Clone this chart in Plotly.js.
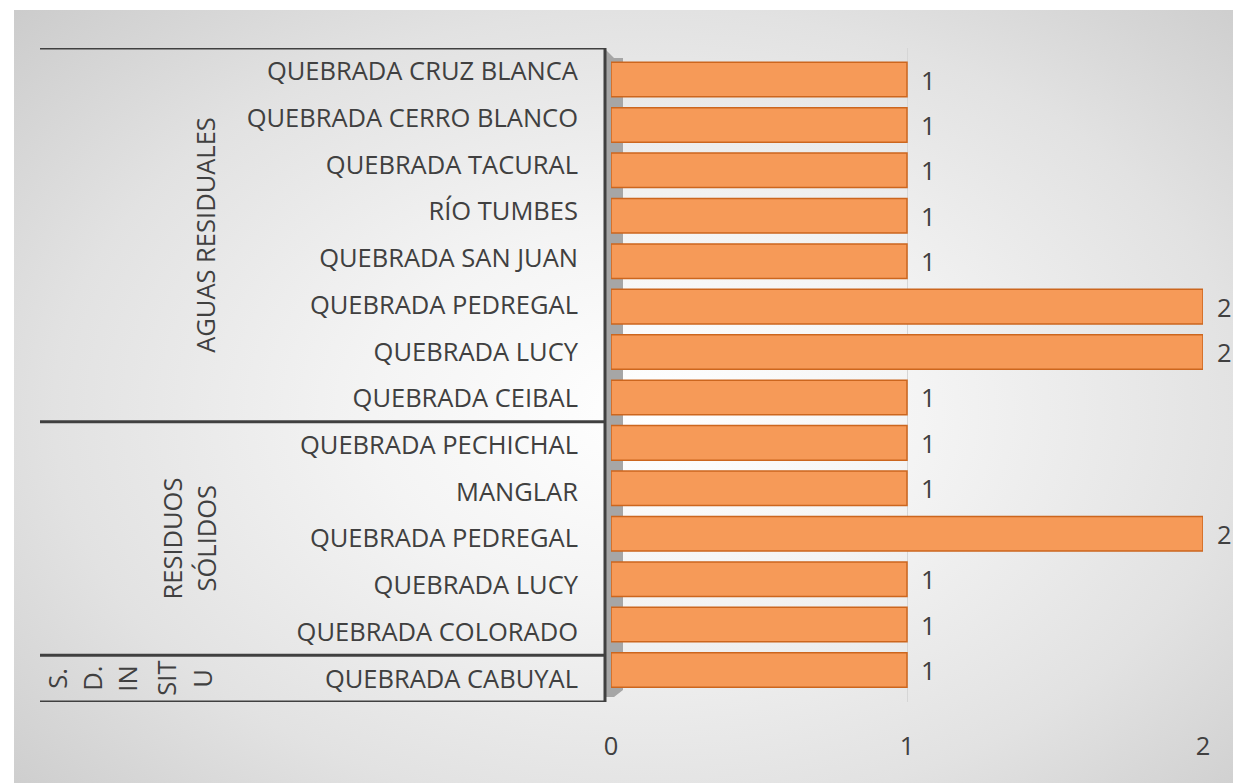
<!DOCTYPE html>
<html>
<head>
<meta charset="utf-8">
<script src="https://cdn.plot.ly/plotly-3.0.1.min.js"></script>
<style>
  html, body { margin: 0; padding: 0; background: #ffffff; }
  #bg { position: absolute; left: 14px; top: 10px; width: 1219px; height: 773px;
        background: radial-gradient(ellipse 75% 80% at 52% 52%, #ffffff 0%, #f4f4f4 30%, #e2e2e2 65%, #c8c8c8 100%); }
  #chart { position: absolute; left: 0; top: 0; width: 1233px; height: 783px; }
</style>
</head>
<body>
<div id="bg"></div>
<div id="chart"></div>
<script>
// ---- data ----
const categories = [
  'QUEBRADA CRUZ BLANCA', 'QUEBRADA CERRO BLANCO', 'QUEBRADA TACURAL', 'RÍO TUMBES',
  'QUEBRADA SAN JUAN', 'QUEBRADA PEDREGAL', 'QUEBRADA LUCY', 'QUEBRADA CEIBAL',
  'QUEBRADA PECHICHAL', 'MANGLAR', 'QUEBRADA PEDREGAL', 'QUEBRADA LUCY',
  'QUEBRADA COLORADO', 'QUEBRADA CABUYAL'
];
const values = [1, 1, 1, 1, 1, 2, 2, 1, 1, 1, 2, 1, 1, 1];
const groupNames = ['AGUAS RESIDUALES', 'RESIDUOS SÓLIDOS', 'S. D. IN SITU'];
const groupSizes = [8, 5, 1];
const xTicks = [0, 1, 2];

// ---- layout geometry ----
const W = 1233, H = 783;
const L = 611, R = 30, T = 48, B = 81;
const PW = W - L - R;
const PH = H - T - B;
const px = p => (p - L) / PW;          // pixel x -> paper x
const py = p => (H - B - p) / PH;      // pixel y -> paper y
const TXT = '#404040';
const FONT = 'Open Sans, Lato, sans-serif';
const FS = 25.5;

const idx = categories.map((_, i) => i);

// bars sit on a slightly compressed axis (3D perspective of the original)
const bars = {
  type: 'bar', orientation: 'h',
  x: values, y: idx, yaxis: 'y2',
  width: 0.76,
  marker: { color: '#F69A58', line: { color: '#CC661E', width: 1.5 } },
  hoverinfo: 'skip'
};

const annotations = values.map((v, i) => ({
  x: v, y: i, xref: 'x', yref: 'y2', text: String(v),
  showarrow: false, xanchor: 'left', yanchor: 'middle', xshift: 12,
  font: { family: FONT, size: FS, color: TXT }
}));

// group boundaries and labels
const shapes = [];
const lineStyle = { color: '#404040', width: 3 };
let start = 0;
const bounds = [-0.5];
groupSizes.forEach(s => { start += s; bounds.push(start - 0.5); });
bounds.forEach(b => shapes.push({
  type: 'line', xref: 'paper', yref: 'y', x0: px(40), x1: px(606), y0: b, y1: b, line: lineStyle
}));
shapes.push({ type: 'line', xref: 'paper', yref: 'y', x0: px(605), x1: px(605), y0: -0.5, y1: bounds[bounds.length - 1], line: lineStyle });
// 3D depth wall
shapes.push({ type: 'path', xref: 'paper', yref: 'paper',
  path: `M ${px(606)} ${py(50)} L ${px(614)} ${py(58)} L ${px(623)} ${py(58)} L ${px(623)} ${py(690)} L ${px(614)} ${py(697)} L ${px(606)} ${py(697)} Z`,
  fillcolor: '#a6a6a6', line: { width: 0 }, layer: 'below' });

// group labels
const gCenters = [];
for (let g = 0; g < groupSizes.length; g++) gCenters.push((bounds[g] + bounds[g + 1]) / 2);
const glab = (text, xp, y) => ({
  x: px(xp), y: y, xref: 'paper', yref: 'y', text: text, showarrow: false, textangle: -90,
  xanchor: 'center', yanchor: 'middle', font: { family: FONT, size: FS, color: TXT }
});
annotations.push(glab(groupNames[0], 205, gCenters[0]));
const g1 = groupNames[1].split(' ');
annotations.push(glab(g1[0], 171, gCenters[1]));
annotations.push(glab(g1[1], 205, gCenters[1]));
const g2 = ['S.', 'D.', 'IN', 'SIT', 'U'];
const g2x = [57, 92, 127, 166, 202];
g2.forEach((t, k) => annotations.push(glab(t, g2x[k], gCenters[2])));

const layout = {
  width: W, height: H,
  margin: { l: L, r: R, t: T, b: B },
  paper_bgcolor: 'rgba(0,0,0,0)', plot_bgcolor: 'rgba(0,0,0,0)',
  showlegend: false,
  xaxis: {
    range: [0, 2], tickvals: xTicks, ticktext: xTicks.map(String),
    showgrid: true, gridcolor: '#d6d6d6', gridwidth: 1, zeroline: false, showline: false,
    ticks: '', ticklabelstandoff: 26,
    tickfont: { family: FONT, size: FS, color: TXT }
  },
  yaxis: {
    range: [13.5, -0.5], tickvals: idx, ticktext: categories,
    showgrid: false, zeroline: false, showline: false, ticks: '',
    ticklabelstandoff: 32,
    tickfont: { family: FONT, size: FS, color: TXT }
  },
  yaxis2: {
    range: [13.5, -0.5], domain: [py(692.7), py(56.8)], anchor: 'x',
    showgrid: false, zeroline: false, showline: false, showticklabels: false, ticks: ''
  },
  shapes: shapes,
  annotations: annotations
};

Plotly.newPlot('chart', [bars], layout, { displayModeBar: false, staticPlot: true });
</script>
</body>
</html>
